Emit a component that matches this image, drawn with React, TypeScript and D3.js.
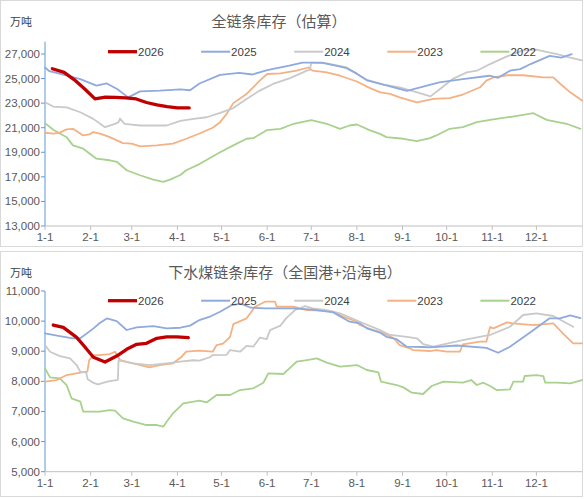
import React from "react";
import * as d3 from "d3";

type Pt = [number, number];

// day-of-year positions of month starts and their labels
const monthDays = [0, 31, 59, 90, 120, 151, 181, 212, 243, 273, 304, 334];
const monthLabels = ["1-1", "2-1", "3-1", "4-1", "5-1", "6-1", "7-1", "8-1", "9-1", "10-1", "11-1", "12-1"];

const years = ["2026", "2025", "2024", "2023", "2022"];
const yearColors = ["#C00000", "#8FAADC", "#C9C9C9", "#F4B183", "#A9D18E"];

const topTicks = [13000, 15000, 17000, 19000, 21000, 23000, 25000, 27000];
const bottomTicks = [5000, 6000, 7000, 8000, 9000, 10000, 11000];

// 全链条库存（估算） — [day of year, 万吨]
const chain2026: Pt[] = [[5, 25800], [13, 25500], [20, 24900], [27, 24150], [34, 23350], [41, 23480], [48, 23470], [55, 23430], [62, 23340], [69, 23050], [76, 22850], [83, 22720], [90, 22620], [98, 22610]];
const chain2025: Pt[] = [[0, 25900], [3, 25600], [15, 25230], [24, 24960], [35, 24420], [42, 24600], [49, 24150], [56.6, 23470], [64.6, 23960], [78, 24020], [92, 24120], [98.6, 24050], [105, 24600], [119, 25300], [132, 25470], [141, 25330], [151, 25680], [166, 26050], [175, 26300], [188, 26300], [200, 26000], [205, 25850], [212, 25400], [219, 24850], [232, 24450], [246, 24000], [257, 24340], [268, 24690], [284, 24960], [302, 25230], [308, 25060], [316, 25640], [323, 25770], [330, 26180], [343, 26850], [351, 26710], [358, 26990]];
const chain2024: Pt[] = [[0, 23070], [5.6, 22720], [14.7, 22660], [24, 22260], [32.8, 21720], [40.8, 21040], [47.6, 21310], [50, 21450], [51, 21750], [54, 21310], [64.6, 21180], [82.7, 21180], [92, 21550], [101, 21720], [110, 21850], [119, 22200], [128, 22600], [137, 23340], [146, 24020], [155, 24560], [166.6, 25040], [178, 25640], [180, 25700], [181, 26300], [191.5, 26230], [205, 25900], [212, 25370], [218.7, 24900], [230, 24500], [241, 24290], [253, 23880], [262, 23550], [268.5, 24150], [277.6, 25000], [286.7, 25500], [293.5, 25640], [302.5, 26180], [314, 26800], [325, 27290], [334, 27350], [343, 27120], [348, 26990], [357, 26700], [365, 26480]];
const chain2023: Pt[] = [[0, 20590], [5.6, 20510], [10, 20600], [14.7, 20860], [19, 20910], [26, 20370], [30, 20450], [32.8, 20640], [38, 20500], [44, 20230], [53, 19750], [59, 19700], [64.6, 19480], [76, 19560], [87, 19700], [96, 20100], [105, 20530], [114, 21000], [119, 21450], [123.5, 22130], [128, 23000], [137, 23750], [146, 24830], [151, 25370], [160, 25420], [171, 25640], [179, 25900], [182, 25640], [191.5, 25500], [200.5, 25230], [212, 24760], [221, 24220], [228, 23880], [234.5, 23750], [241, 23470], [252.7, 23070], [264, 23340], [275, 23400], [284, 23700], [295.7, 24290], [300, 24830], [304.8, 25090], [314, 25270], [325, 25270], [338.7, 25090], [345.5, 25090], [350, 24600], [357, 23880], [365, 23210]];
const chain2022: Pt[] = [[0, 21370], [5.6, 20830], [14.7, 20230], [19, 19560], [26, 19290], [35, 18480], [44, 18350], [49, 18210], [55.5, 17540], [64.6, 17130], [73.6, 16780], [80.4, 16590], [85, 16780], [92, 17150], [96, 17540], [105, 18040], [119, 19000], [128, 19560], [137, 20100], [141.6, 20150], [150.7, 20800], [160, 20910], [169, 21320], [181, 21620], [191.5, 21320], [200.5, 20910], [207, 21180], [212, 21260], [221, 20780], [227.7, 20500], [232, 20230], [243.6, 20100], [252.7, 19900], [261.7, 20150], [266, 20370], [275, 20910], [284, 21040], [293.5, 21450], [302.5, 21640], [318, 21910], [332, 22180], [341, 21640], [354.6, 21320], [364, 20910]];

// 下水煤链条库存（全国港+沿海电） — [day of year, 万吨]
const coal2026: Pt[] = [[5.6, 9870], [12.4, 9794], [21.5, 9462], [27, 9150], [32.9, 8800], [40.8, 8640], [48.7, 8840], [55.5, 9063], [62.3, 9230], [69, 9263], [76, 9430], [82.7, 9480], [89.5, 9480], [97.4, 9450]];
const coal2025: Pt[] = [[0, 9595], [10, 9505], [19, 9430], [24, 9430], [33, 9760], [37, 9930], [42, 10090], [48.7, 10000], [55.5, 9705], [62.3, 9794], [73.6, 9837], [82.7, 9760], [92, 9780], [98.6, 9850], [105, 10036], [112, 10146], [119, 10312], [127, 10534], [133, 10580], [140, 10445], [150, 10425], [168.8, 10425], [182, 10380], [196, 10290], [207, 9980], [214, 9925], [218.7, 9760], [227.7, 9620], [232, 9480], [239, 9400], [245.9, 9150], [257, 9140], [261.7, 9130], [280, 9190], [300, 9110], [308, 8950], [316, 9150], [329.7, 9620], [343, 10093], [350, 10093], [357, 10190], [364, 10100]];
const coal2024: Pt[] = [[0, 9206], [3.4, 8984], [10.2, 8840], [17, 8765], [21.5, 8542], [24, 8320], [28, 8290], [29, 8068], [33, 7950], [36, 7900], [40, 7960], [44, 8010], [49.5, 8050], [50, 8700], [60, 8600], [71, 8542], [82.7, 8600], [91.8, 8652], [100.8, 8700], [105, 8685], [112, 8800], [114, 8874], [123.5, 8880], [125.8, 9040], [132.6, 8984], [137, 9180], [141.6, 9150], [146, 9450], [150.7, 9400], [153, 9700], [160, 9850], [164, 10100], [170, 10368], [176.8, 10500], [182, 10425], [191.5, 10368], [200.5, 10260], [214, 9980], [227.7, 9700], [234.5, 9540], [246, 9480], [252.7, 9430], [257, 9240], [264, 9150], [284, 9372], [302.5, 9540], [316, 9814], [325, 10203], [334, 10260], [345.5, 10170], [359, 9814]];
const coal2023: Pt[] = [[0, 7990], [8, 8044], [14.7, 8210], [24, 8287], [28.8, 8320], [30, 8700], [33, 8870], [37, 8874], [44, 8907], [47.6, 8984], [51, 8708], [60, 8600], [71, 8465], [78, 8542], [87, 8600], [92.9, 8818], [96, 8984], [105, 9017], [114, 8984], [116.7, 9206], [121, 9250], [125.8, 9480], [128, 9900], [137, 10093], [142.8, 10478], [149.6, 10645], [156.4, 10645], [157.5, 10478], [168.8, 10478], [177.9, 10368], [189, 10346], [196, 10312], [198, 10260], [203, 10146], [212, 9980], [214, 9870], [223, 9705], [230, 9600], [236.8, 9440], [241, 9206], [248, 9097], [250, 9040], [261.7, 9007], [266, 9040], [273, 8984], [282, 8984], [284, 9230], [295.7, 9316], [300, 9316], [302.5, 9800], [304.8, 9760], [314, 9960], [318, 9927], [332, 9870], [345.5, 9927], [352, 9595], [359, 9263], [365, 9263]];
const coal2022: Pt[] = [[0, 8433], [3.4, 8134], [10, 8100], [14.7, 7878], [18, 7437], [24, 7325], [26, 6992], [37, 6992], [44, 7048], [47.6, 7025], [53, 6772], [60, 6660], [69, 6550], [76, 6550], [80.4, 6494], [82.7, 6660], [87, 6940], [94, 7270], [105, 7357], [110, 7304], [116.7, 7546], [125.8, 7546], [132.6, 7712], [141.6, 7769], [148.4, 7955], [151.8, 8267], [162, 8244], [165.4, 8400], [171, 8652], [178, 8708], [184.7, 8765], [191.5, 8620], [200.5, 8486], [212, 8542], [218.7, 8377], [226.6, 8300], [228.4, 7990], [239, 7878], [243.6, 7800], [249.3, 7623], [257, 7580], [262.8, 7845], [270.8, 7990], [284, 7955], [289.7, 8044], [293.5, 7878], [298, 7955], [302.5, 7845], [307, 7712], [316, 7735], [318.4, 7990], [325, 7990], [326, 8177], [334, 8210], [338.7, 8177], [340, 7955], [348, 7955], [357, 7935], [365, 8044]];

const numFont = "'Liberation Sans', Arial, sans-serif";
const cjkFont = "'Noto Sans CJK SC', sans-serif";
const fmt = d3.format(",");

interface PanelProps {
  top: number;
  bottom: number;
  title: string;
  titleX: number;
  yDomain: [number, number];
  yRange: [number, number];
  yTicks: number[];
  series: Pt[][];
  legendY: number;
}

const Panel: React.FC<PanelProps> = ({ top, bottom, title, titleX, yDomain, yRange, yTicks, series, legendY }) => {
  const x = d3.scaleLinear().domain([0, 365]).range([45, 582]);
  const y = d3.scaleLinear().domain(yDomain).range(yRange);
  const line = d3.line<Pt>().x((d) => x(d[0])).y((d) => y(d[1]));
  const axisY = yRange[0];

  return (
    <g>
      <rect x={0.5} y={top + 0.5} width={582} height={bottom - top} fill="#fff" stroke="#D9D9D9" />
      <text x={titleX} y={top + 27} textAnchor="middle" fontFamily={cjkFont} fontSize={15} fill="#595959">{title}</text>
      <text x={10} y={top + 26} fontFamily={cjkFont} fontSize={11} fill="#404040">万吨</text>

      {/* y axis */}
      <line x1={45} x2={45} y1={yRange[1]} y2={axisY} stroke="#5B9BD5" strokeWidth={1} />
      {yTicks.map((t) => (
        <g key={t}>
          <line x1={41} x2={45} y1={y(t)} y2={y(t)} stroke="#5B9BD5" />
          <text x={40} y={y(t)} dy="0.35em" textAnchor="end" fontFamily={numFont} fontSize={11.5} fill="#595959">{fmt(t)}</text>
        </g>
      ))}

      {/* x axis */}
      <line x1={45} x2={582} y1={axisY} y2={axisY} stroke="#BFBFBF" />
      {monthDays.map((d, i) => (
        <g key={d}>
          <line x1={x(d)} x2={x(d)} y1={axisY} y2={axisY + 4} stroke="#BFBFBF" />
          <text x={x(d)} y={axisY + 15} textAnchor="middle" fontFamily={numFont} fontSize={11.5} fill="#595959">{monthLabels[i]}</text>
        </g>
      ))}

      {/* series, oldest first so 2026 is on top */}
      {series.map((s, i) => ({ s, i })).reverse().map(({ s, i }) => (
        <path key={years[i]} d={line(s) || ""} fill="none" stroke={yearColors[i]}
          strokeWidth={i === 0 ? 3.3 : 1.8} strokeLinejoin="round" strokeLinecap="round" />
      ))}

      {/* legend */}
      {years.map((yr, i) => {
        const lx = 108 + i * 93.1;
        return (
          <g key={yr}>
            <line x1={lx} x2={lx + 29} y1={legendY} y2={legendY} stroke={yearColors[i]} strokeWidth={i === 0 ? 3.3 : 2} />
            <text x={lx + 30} y={legendY} dy="0.35em" fontFamily={numFont} fontSize={11.5} fill="#404040">{yr}</text>
          </g>
        );
      })}
    </g>
  );
};

export default function App() {
  return (
    <div style={{ position: "absolute", left: 0, top: 0 }}>
      <svg width={584} height={499} style={{ display: "block", background: "#fff" }}>
        <Panel
          top={0}
          bottom={246}
          title="全链条库存（估算）"
          titleX={279}
          yDomain={[13000, 28000]}
          yRange={[226, 41.7]}
          yTicks={topTicks}
          series={[chain2026, chain2025, chain2024, chain2023, chain2022]}
          legendY={51.7}
        />
        <Panel
          top={251}
          bottom={496}
          title="下水煤链条库存（全国港+沿海电）"
          titleX={285}
          yDomain={[5000, 11000]}
          yRange={[471.7, 291]}
          yTicks={bottomTicks}
          series={[coal2026, coal2025, coal2024, coal2023, coal2022]}
          legendY={300.7}
        />
      </svg>
    </div>
  );
}
